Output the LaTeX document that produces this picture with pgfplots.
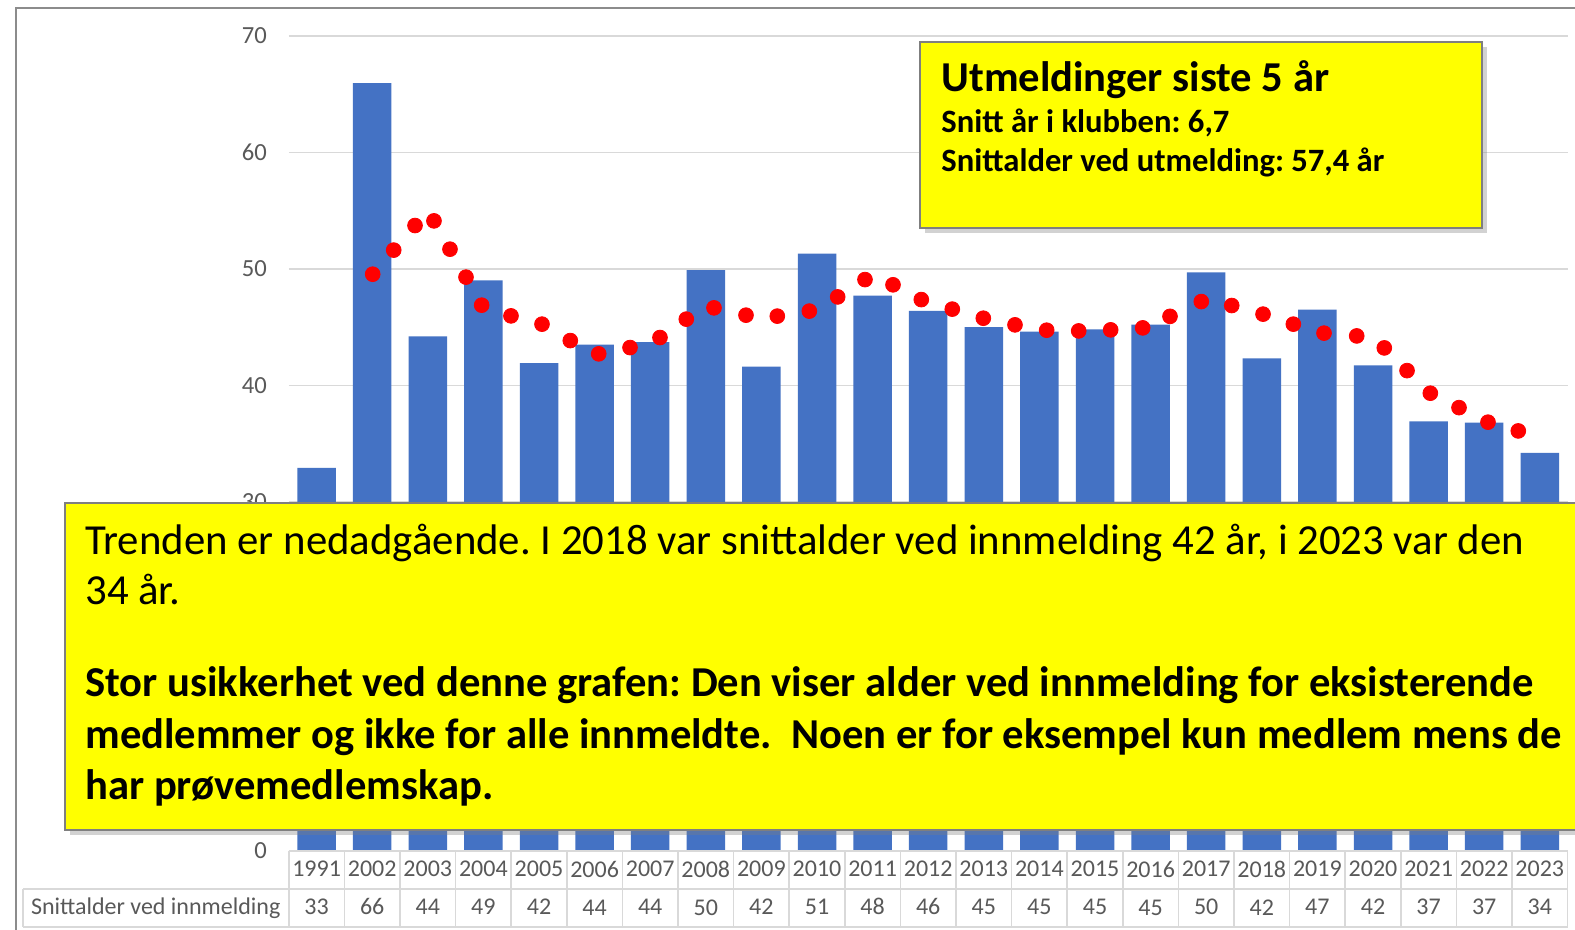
\documentclass[border=0pt]{standalone}
\usepackage{pgfplots}
\pgfplotsset{compat=1.18}
\usepackage{fontspec}
\setmainfont{Carlito}
\usetikzlibrary{shadows}
\definecolor{barblue}{HTML}{4472C4}
\definecolor{tickgray}{HTML}{595959}
\definecolor{gridgray}{HTML}{D9D9D9}
\definecolor{framegray}{HTML}{8C8C8C}
\definecolor{boxyellow}{HTML}{FFFF00}
\definecolor{boxborder}{HTML}{7F7F7F}
\frenchspacing
\begin{document}
\begin{tikzpicture}
\path[use as bounding box] (0,0) rectangle (787.5pt,465pt);
\clip (0,0) rectangle (787.5pt,465pt);
\fill[white] (0,0) rectangle (787.5pt,465pt);
\begin{axis}[
  at={(144.4pt,39.5pt)}, anchor=south west,
  scale only axis, width=639.4pt, height=407.5pt,
  xmin=-0.5, xmax=22.5, ymin=0, ymax=70,
  ytick={0,10,...,70},
  xtick={0,...,22},
  xticklabels={{1991\\33},{2002\\66},{2003\\44},{2004\\49},{2005\\42},{2006\\44},{2007\\44},{2008\\50},{2009\\42},{2010\\51},{2011\\48},{2012\\46},{2013\\45},{2014\\45},{2015\\45},{2016\\45},{2017\\50},{2018\\42},{2019\\47},{2020\\42},{2021\\37},{2022\\37},{2023\\34}},
  axis line style={draw=none},
  major tick length=0pt,
  ymajorgrids, grid style={gridgray, line width=0.75pt},
  clip=false,
  /pgf/number format/assume math mode=true,
  yticklabel style={font=\fontsize{12.3}{14}\selectfont, text=tickgray, xshift=-7.5pt},
  xticklabel style={font=\fontsize{12}{19}\selectfont, text=tickgray, align=center, anchor=north, yshift=-1.5pt},
]
\addplot[ybar, bar width=19.25pt, fill=barblue, draw=none] coordinates {
(0,32.9) (1,65.95) (2,44.2) (3,49.0) (4,41.9) (5,43.5) (6,43.7) (7,49.9) (8,41.6) (9,51.3) (10,47.7) (11,46.4) (12,45.0) (13,44.6) (14,44.8) (15,45.2) (16,49.7) (17,42.3) (18,46.5) (19,41.7) (20,36.9) (21,36.8) (22,34.2)
};
\addplot[only marks, mark=*, mark size=3.7pt, mark options={fill=red, draw=red}] coordinates {
(1.009,49.54) (1.387,51.61) (1.770,53.72) (2.111,54.12) (2.399,51.69) (2.687,49.29) (2.969,46.88) (3.496,45.96) (4.054,45.25) (4.563,43.84) (5.074,42.70) (5.637,43.24) (6.176,44.10) (6.649,45.68) (7.147,46.65) (7.723,46.02) (8.286,45.94) (8.862,46.37) (9.372,47.59) (9.863,49.08) (10.367,48.63) (10.876,47.36) (11.433,46.54) (11.991,45.76) (12.561,45.19) (13.131,44.73) (13.707,44.67) (14.282,44.76) (14.858,44.93) (15.349,45.92) (15.912,47.19) (16.459,46.85) (17.022,46.11) (17.567,45.25) (18.119,44.48) (18.707,44.24) (19.203,43.21) (19.612,41.26) (20.031,39.32) (20.547,38.08) (21.068,36.83) (21.613,36.08)
};
\pgfplotsinvokeforeach{-0.5,0.5,...,22.5}{\draw[gridgray, line width=0.75pt] (axis cs:#1,0) -- (axis cs:#1,-6.53);}
\draw[gridgray, line width=0.75pt] (axis cs:-0.5,0) -- (axis cs:22.5,0);
\draw[gridgray, line width=0.75pt] (axis cs:-5.28,-3.26) -- (axis cs:22.5,-3.26);
\draw[gridgray, line width=0.75pt] (axis cs:-5.28,-6.53) -- (axis cs:22.5,-6.53);
\draw[gridgray, line width=0.75pt] (axis cs:-5.28,-3.26) -- (axis cs:-5.28,-6.53);
\node[anchor=east, text=tickgray, font=\fontsize{12}{14}\selectfont, inner sep=4pt] at (axis cs:-0.5,-4.9) {Snittalder ved innmelding};
\end{axis}
% outer chart frame
\draw[framegray, line width=1pt] (7.85pt,-20pt) rectangle (820pt,460.85pt);
% lower yellow box
\filldraw[fill=boxyellow, draw=boxborder, line width=0.8pt, drop shadow={shadow xshift=2.5pt, shadow yshift=-2.5pt, opacity=0.35}] (32.5pt,50pt) rectangle (820pt,213.5pt);
\begin{scope}[every node/.style={anchor=base west, inner sep=0pt}]
\node[font=\fontsize{21.4}{25}\selectfont] at (42.5pt,187.5pt) {Trenden er nedadgående. I 2018 var snittalder ved innmelding 42 år, i 2023 var den};
\node[font=\fontsize{21.4}{25}\selectfont] at (42.5pt,162.5pt) {34 år.};
\node[font=\fontsize{21.3}{25}\selectfont\bfseries] at (42.5pt,116.5pt) {Stor usikkerhet ved denne grafen: Den viser alder ved innmelding for eksisterende};
\node[font=\fontsize{21.3}{25}\selectfont\bfseries] at (42.5pt,90.5pt) {medlemmer og ikke for alle innmeldte.\ \ Noen er for eksempel kun medlem mens de};
\node[font=\fontsize{21.3}{25}\selectfont\bfseries] at (42.5pt,65pt) {har prøvemedlemskap.};
\end{scope}
% upper yellow box
\filldraw[fill=boxyellow, draw=boxborder, line width=0.8pt, drop shadow={shadow xshift=2.5pt, shadow yshift=-2.5pt, opacity=0.35}] (460pt,351pt) rectangle (741pt,444pt);
\begin{scope}[every node/.style={anchor=base west, inner sep=0pt}]
\node[font=\fontsize{21.3}{25}\selectfont\bfseries] at (470.5pt,419.2pt) {Utmeldinger siste 5 år};
\node[font=\fontsize{16.3}{19}\selectfont\bfseries] at (470.5pt,398.7pt) {Snitt år i klubben: 6,7};
\node[font=\fontsize{16.3}{19}\selectfont\bfseries] at (470.5pt,379.2pt) {Snittalder ved utmelding: 57,4 år};
\end{scope}
\end{tikzpicture}
\end{document}
